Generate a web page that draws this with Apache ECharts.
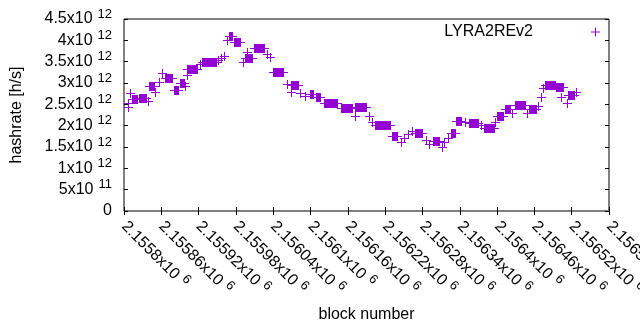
<!DOCTYPE html>
<html>
<head>
<meta charset="utf-8">
<script src="https://cdn.jsdelivr.net/npm/echarts@6/dist/echarts.min.js"></script>
<style>
  html, body { margin: 0; padding: 0; background: #fff; }
  #main { width: 640px; height: 330px; }
</style>
</head>
<body>
<div id="main"></div>
<script>
// block number ticks and hashrate ticks (as on the gnuplot axes)
const xTicks = [2155800, 2155860, 2155920, 2155980, 2156040, 2156100, 2156160,
  2156220, 2156280, 2156340, 2156400, 2156460, 2156520, 2156580];
const yTicks = [0, 0.5e12, 1e12, 1.5e12, 2e12, 2.5e12, 3e12, 3.5e12, 4e12, 4.5e12];

const seriesName = 'LYRA2REv2';

// each entry is a run of blocks with the same hashrate (from == to for a lone point)
const blockFrom = [
  2155806, 2155806, 2155810, 2155813, 2155824, 2155839, 2155840, 2155850, 2155856, 2155861,
  2155866, 2155880, 2155890, 2155898, 2155901, 2155901, 2155922, 2155925, 2155951, 2155956,
  2155961, 2155966, 2155969, 2155977, 2155991, 2155995, 2155998, 2156009, 2156030, 2156035,
  2156040, 2156062, 2156069, 2156069, 2156083, 2156091, 2156099, 2156109, 2156122, 2156149,
  2156172, 2156172, 2156194, 2156199, 2156204, 2156231, 2156246, 2156251, 2156257, 2156263,
  2156268, 2156286, 2156291, 2156297, 2156312, 2156315, 2156321, 2156326, 2156334, 2156349,
  2156355, 2156374, 2156379, 2156397, 2156400, 2156413, 2156424, 2156429, 2156448, 2156452,
  2156466, 2156471, 2156474, 2156477, 2156495, 2156502, 2156513, 2156514, 2156527
];
const blockTo = [
  2155806, 2155806, 2155810, 2155821, 2155835, 2155839, 2155848, 2155850, 2155856, 2155861,
  2155877, 2155887, 2155897, 2155898, 2155901, 2155917, 2155922, 2155948, 2155951, 2155956,
  2155961, 2155966, 2155974, 2155987, 2155991, 2156006, 2155998, 2156025, 2156030, 2156035,
  2156056, 2156062, 2156080, 2156069, 2156083, 2156091, 2156104, 2156115, 2156143, 2156167,
  2156189, 2156172, 2156194, 2156199, 2156228, 2156239, 2156246, 2156251, 2156257, 2156263,
  2156279, 2156286, 2156291, 2156307, 2156312, 2156315, 2156321, 2156333, 2156342, 2156349,
  2156370, 2156374, 2156395, 2156397, 2156410, 2156421, 2156424, 2156445, 2156448, 2156463,
  2156466, 2156471, 2156474, 2156493, 2156506, 2156502, 2156513, 2156524, 2156527
];
// hashrate in units of 10^12 h/s
const hashrate = [
  2.53, 2.44, 2.77, 2.62, 2.66, 2.58, 2.93, 2.79, 3.02, 3.23,
  3.12, 2.84, 2.99, 2.93, 3.19, 3.33, 3.45, 3.49, 3.54, 3.59,
  3.63, 4.01, 4.11, 3.97, 3.49, 3.59, 3.73, 3.82, 3.68, 3.61,
  3.26, 2.98, 2.95, 2.79, 2.77, 2.70, 2.74, 2.67, 2.53, 2.41,
  2.44, 2.23, 2.23, 2.09, 2.02, 1.76, 1.62, 1.71, 1.80, 1.87,
  1.83, 1.66, 1.57, 1.64, 1.50, 1.62, 1.71, 1.83, 2.11, 2.09,
  2.06, 2.02, 1.95, 2.09, 2.23, 2.39, 2.30, 2.48, 2.30, 2.39,
  2.46, 2.67, 2.88, 2.95, 2.91, 2.67, 2.53, 2.72, 2.79
];

const data = blockFrom.map((b, i) => [b, blockTo[i], hashrate[i] * 1e12]);

function sci(v) {
  if (v === 0) return '{b|0}';
  const e = Math.floor(Math.log10(v) + 1e-9);
  const m = +(v / Math.pow(10, e)).toPrecision(6);
  return '{b|' + m + 'x10}{s|' + e + '}';
}

const font = "'Liberation Sans', Arial, sans-serif";
const purple = '#9400d3';
const rich = {
  b: { fontSize: 16, fontFamily: font, color: '#000', verticalAlign: 'middle' },
  s: { fontSize: 13, fontFamily: font, color: '#000', verticalAlign: 'top', padding: [0, 0, 10, 5] }
};

const tickStyle = { show: true, inside: true, length: 4, lineStyle: { color: '#000', width: 1 } };
const nameStyle = { fontSize: 16, fontFamily: font, color: '#000' };

let myChart = echarts.init(document.getElementById('main'), null, { renderer: 'canvas' });

let options = {
  animation: false,
  backgroundColor: '#fff',
  textStyle: { fontFamily: font },
  grid: {
    left: 124, right: 31, top: 19, bottom: 119,
    show: true, borderColor: '#000', borderWidth: 1,
    containLabel: false, outerBoundsMode: 'none'
  },
  legend: {
    data: [{
      name: seriesName,
      icon: 'path://M0,3.5H8V4.5H0Z M3.5,0H4.5V8H3.5Z',
      itemStyle: { color: purple }
    }],
    right: 40, top: 24, padding: 0,
    align: 'right',
    itemWidth: 9, itemHeight: 9,
    textStyle: { fontSize: 16, fontFamily: font, color: '#000', padding: [0, 53, 0, 0] }
  },
  xAxis: [{
    type: 'value',
    min: xTicks[0], max: xTicks[xTicks.length - 1], interval: xTicks[1] - xTicks[0],
    name: 'block number', nameLocation: 'middle', nameGap: 96, nameMoveOverlap: false,
    nameTextStyle: nameStyle,
    axisLine: { show: false },
    axisTick: tickStyle,
    splitLine: { show: false },
    axisLabel: {
      rotate: -45, margin: 13, hideOverlap: false, showMinLabel: true, showMaxLabel: true,
      formatter: sci, rich: rich
    }
  }, {
    type: 'value', position: 'top',
    min: xTicks[0], max: xTicks[xTicks.length - 1], interval: xTicks[1] - xTicks[0],
    axisLine: { show: false }, axisTick: tickStyle,
    axisLabel: { show: false }, splitLine: { show: false }
  }],
  yAxis: [{
    type: 'value',
    min: yTicks[0], max: yTicks[yTicks.length - 1], interval: yTicks[1] - yTicks[0],
    name: 'hashrate [h/s]', nameLocation: 'middle', nameGap: 99, nameMoveOverlap: false,
    nameTextStyle: nameStyle,
    axisLine: { show: false },
    axisTick: tickStyle,
    splitLine: { show: false },
    axisLabel: { margin: 12, formatter: sci, rich: rich, showMinLabel: true, showMaxLabel: true }
  }, {
    type: 'value', position: 'right',
    min: yTicks[0], max: yTicks[yTicks.length - 1], interval: yTicks[1] - yTicks[0],
    axisLine: { show: false }, axisTick: tickStyle,
    axisLabel: { show: false }, splitLine: { show: false }
  }],
  series: [{
    name: seriesName,
    type: 'custom',
    xAxisIndex: 0, yAxisIndex: 0,
    itemStyle: { color: purple },
    encode: { x: [0, 1], y: 2 },
    data: data,
    renderItem: function (params, api) {
      const a = api.coord([api.value(0), api.value(2)]);
      const b = api.coord([api.value(1), api.value(2)]);
      const x0 = Math.round(a[0]), x1 = Math.round(b[0]), y = Math.round(a[1]);
      const color = api.visual('color');
      return {
        type: 'group',
        children: [
          { type: 'rect', shape: { x: x0, y: y - 4, width: x1 - x0 + 1, height: 9 }, style: { fill: color } },
          { type: 'rect', shape: { x: x0 - 4, y: y, width: x1 - x0 + 9, height: 1 }, style: { fill: color } }
        ]
      };
    }
  }]
};

myChart.setOption(options);
</script>
</body>
</html>
